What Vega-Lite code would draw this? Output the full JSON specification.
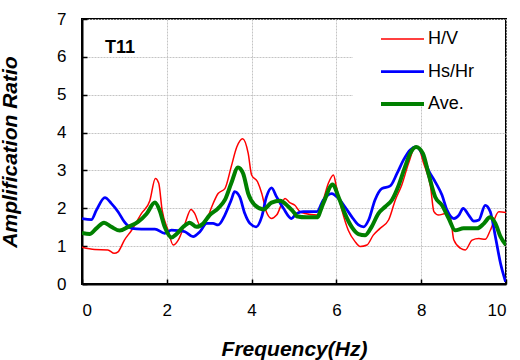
{
  "$schema": "https://vega.github.io/schema/vega-lite/v6.json",
  "width": 424,
  "height": 265,
  "autosize": "none",
  "padding": {"left": 82, "top": 19, "right": 14, "bottom": 76},
  "background": "white",
  "config": {
    "font": "Liberation Sans",
    "view": {"stroke": "black", "strokeWidth": 2},
    "axis": {
      "labelFont": "Liberation Sans",
      "labelFontSize": 17,
      "labelColor": "black",
      "labelOverlap": false,
      "titleFont": "Liberation Sans",
      "titleFontSize": 21,
      "titleFontWeight": "bold",
      "titleFontStyle": "italic",
      "titleColor": "black",
      "domainColor": "black",
      "domainWidth": 2,
      "tickColor": "black",
      "tickWidth": 1.5,
      "gridColor": "#c4c4c4",
      "gridDash": [2, 1],
      "gridWidth": 1
    },
    "axisX": {"tickCount": 12},
    "axisY": {"tickCount": 12}
  },
  "datasets": {
    "curves": [
      {"f":0,"v":0.97,"s":"H/V"},{"f":0.3,"v":0.91,"s":"H/V"},{"f":0.61,"v":0.9,"s":"H/V"},{"f":0.76,"v":0.81,"s":"H/V"},{"f":0.85,"v":0.85,"s":"H/V"},{"f":1.0,"v":1.16,"s":"H/V"},{"f":1.17,"v":1.42,"s":"H/V"},{"f":1.4,"v":1.86,"s":"H/V"},{"f":1.6,"v":2.2,"s":"H/V"},{"f":1.73,"v":2.79,"s":"H/V"},{"f":1.81,"v":2.66,"s":"H/V"},{"f":1.89,"v":1.95,"s":"H/V"},{"f":2.03,"v":1.42,"s":"H/V"},{"f":2.15,"v":1.03,"s":"H/V"},{"f":2.27,"v":1.16,"s":"H/V"},{"f":2.43,"v":1.6,"s":"H/V"},{"f":2.57,"v":1.97,"s":"H/V"},{"f":2.66,"v":1.86,"s":"H/V"},{"f":2.78,"v":1.56,"s":"H/V"},{"f":2.94,"v":1.69,"s":"H/V"},{"f":3.06,"v":2.04,"s":"H/V"},{"f":3.21,"v":2.39,"s":"H/V"},{"f":3.37,"v":2.52,"s":"H/V"},{"f":3.52,"v":3.1,"s":"H/V"},{"f":3.65,"v":3.62,"s":"H/V"},{"f":3.79,"v":3.84,"s":"H/V"},{"f":3.92,"v":3.45,"s":"H/V"},{"f":4.0,"v":2.88,"s":"H/V"},{"f":4.14,"v":2.7,"s":"H/V"},{"f":4.24,"v":2.39,"s":"H/V"},{"f":4.35,"v":1.9,"s":"H/V"},{"f":4.47,"v":1.73,"s":"H/V"},{"f":4.59,"v":1.82,"s":"H/V"},{"f":4.79,"v":2.26,"s":"H/V"},{"f":4.9,"v":2.15,"s":"H/V"},{"f":5.02,"v":2.08,"s":"H/V"},{"f":5.14,"v":1.91,"s":"H/V"},{"f":5.26,"v":1.86,"s":"H/V"},{"f":5.54,"v":1.82,"s":"H/V"},{"f":5.69,"v":2.22,"s":"H/V"},{"f":5.81,"v":2.66,"s":"H/V"},{"f":5.93,"v":2.88,"s":"H/V"},{"f":6.0,"v":2.57,"s":"H/V"},{"f":6.13,"v":1.95,"s":"H/V"},{"f":6.28,"v":1.42,"s":"H/V"},{"f":6.44,"v":1.12,"s":"H/V"},{"f":6.56,"v":0.99,"s":"H/V"},{"f":6.72,"v":1.03,"s":"H/V"},{"f":6.87,"v":1.29,"s":"H/V"},{"f":7.03,"v":1.47,"s":"H/V"},{"f":7.23,"v":1.69,"s":"H/V"},{"f":7.39,"v":2.22,"s":"H/V"},{"f":7.54,"v":2.61,"s":"H/V"},{"f":7.7,"v":3.18,"s":"H/V"},{"f":7.86,"v":3.62,"s":"H/V"},{"f":7.94,"v":3.58,"s":"H/V"},{"f":8.06,"v":3.18,"s":"H/V"},{"f":8.22,"v":2.57,"s":"H/V"},{"f":8.3,"v":1.91,"s":"H/V"},{"f":8.41,"v":1.82,"s":"H/V"},{"f":8.57,"v":1.86,"s":"H/V"},{"f":8.69,"v":1.73,"s":"H/V"},{"f":8.77,"v":1.16,"s":"H/V"},{"f":8.93,"v":0.94,"s":"H/V"},{"f":9.04,"v":0.9,"s":"H/V"},{"f":9.2,"v":1.16,"s":"H/V"},{"f":9.36,"v":1.2,"s":"H/V"},{"f":9.51,"v":1.18,"s":"H/V"},{"f":9.63,"v":1.42,"s":"H/V"},{"f":9.83,"v":1.91,"s":"H/V"},{"f":10.0,"v":1.89,"s":"H/V"},
      {"f":0,"v":1.73,"s":"Hs/Hr"},{"f":0.22,"v":1.7,"s":"Hs/Hr"},{"f":0.34,"v":1.95,"s":"Hs/Hr"},{"f":0.54,"v":2.28,"s":"Hs/Hr"},{"f":0.69,"v":2.13,"s":"Hs/Hr"},{"f":0.85,"v":1.91,"s":"Hs/Hr"},{"f":1.0,"v":1.64,"s":"Hs/Hr"},{"f":1.17,"v":1.47,"s":"Hs/Hr"},{"f":1.4,"v":1.45,"s":"Hs/Hr"},{"f":1.72,"v":1.45,"s":"Hs/Hr"},{"f":1.95,"v":1.34,"s":"Hs/Hr"},{"f":2.11,"v":1.42,"s":"Hs/Hr"},{"f":2.27,"v":1.41,"s":"Hs/Hr"},{"f":2.43,"v":1.38,"s":"Hs/Hr"},{"f":2.62,"v":1.25,"s":"Hs/Hr"},{"f":2.78,"v":1.38,"s":"Hs/Hr"},{"f":2.94,"v":1.6,"s":"Hs/Hr"},{"f":3.09,"v":1.6,"s":"Hs/Hr"},{"f":3.21,"v":1.56,"s":"Hs/Hr"},{"f":3.37,"v":1.82,"s":"Hs/Hr"},{"f":3.52,"v":2.22,"s":"Hs/Hr"},{"f":3.6,"v":2.44,"s":"Hs/Hr"},{"f":3.72,"v":2.3,"s":"Hs/Hr"},{"f":3.84,"v":1.86,"s":"Hs/Hr"},{"f":3.96,"v":1.6,"s":"Hs/Hr"},{"f":4.11,"v":1.51,"s":"Hs/Hr"},{"f":4.24,"v":1.78,"s":"Hs/Hr"},{"f":4.35,"v":2.3,"s":"Hs/Hr"},{"f":4.47,"v":2.54,"s":"Hs/Hr"},{"f":4.59,"v":2.3,"s":"Hs/Hr"},{"f":4.75,"v":2.0,"s":"Hs/Hr"},{"f":4.94,"v":1.73,"s":"Hs/Hr"},{"f":5.06,"v":1.86,"s":"Hs/Hr"},{"f":5.22,"v":1.91,"s":"Hs/Hr"},{"f":5.54,"v":1.91,"s":"Hs/Hr"},{"f":5.69,"v":2.22,"s":"Hs/Hr"},{"f":5.89,"v":2.39,"s":"Hs/Hr"},{"f":6.05,"v":2.26,"s":"Hs/Hr"},{"f":6.2,"v":2.04,"s":"Hs/Hr"},{"f":6.36,"v":1.78,"s":"Hs/Hr"},{"f":6.52,"v":1.56,"s":"Hs/Hr"},{"f":6.64,"v":1.51,"s":"Hs/Hr"},{"f":6.76,"v":1.69,"s":"Hs/Hr"},{"f":6.91,"v":2.22,"s":"Hs/Hr"},{"f":7.07,"v":2.52,"s":"Hs/Hr"},{"f":7.27,"v":2.59,"s":"Hs/Hr"},{"f":7.43,"v":2.92,"s":"Hs/Hr"},{"f":7.58,"v":3.27,"s":"Hs/Hr"},{"f":7.74,"v":3.54,"s":"Hs/Hr"},{"f":7.88,"v":3.62,"s":"Hs/Hr"},{"f":8.02,"v":3.45,"s":"Hs/Hr"},{"f":8.17,"v":3.01,"s":"Hs/Hr"},{"f":8.33,"v":2.7,"s":"Hs/Hr"},{"f":8.49,"v":2.35,"s":"Hs/Hr"},{"f":8.61,"v":1.95,"s":"Hs/Hr"},{"f":8.77,"v":1.73,"s":"Hs/Hr"},{"f":8.89,"v":1.82,"s":"Hs/Hr"},{"f":8.99,"v":2.0,"s":"Hs/Hr"},{"f":9.12,"v":1.82,"s":"Hs/Hr"},{"f":9.24,"v":1.66,"s":"Hs/Hr"},{"f":9.36,"v":1.69,"s":"Hs/Hr"},{"f":9.51,"v":2.08,"s":"Hs/Hr"},{"f":9.63,"v":1.91,"s":"Hs/Hr"},{"f":9.75,"v":1.25,"s":"Hs/Hr"},{"f":9.87,"v":0.55,"s":"Hs/Hr"},{"f":9.99,"v":0.06,"s":"Hs/Hr"},
      {"f":0,"v":1.35,"s":"Ave."},{"f":0.18,"v":1.32,"s":"Ave."},{"f":0.34,"v":1.47,"s":"Ave."},{"f":0.52,"v":1.62,"s":"Ave."},{"f":0.69,"v":1.51,"s":"Ave."},{"f":0.89,"v":1.41,"s":"Ave."},{"f":1.09,"v":1.51,"s":"Ave."},{"f":1.32,"v":1.64,"s":"Ave."},{"f":1.52,"v":1.85,"s":"Ave."},{"f":1.72,"v":2.15,"s":"Ave."},{"f":1.83,"v":1.95,"s":"Ave."},{"f":1.95,"v":1.51,"s":"Ave."},{"f":2.11,"v":1.23,"s":"Ave."},{"f":2.23,"v":1.32,"s":"Ave."},{"f":2.39,"v":1.51,"s":"Ave."},{"f":2.54,"v":1.62,"s":"Ave."},{"f":2.7,"v":1.51,"s":"Ave."},{"f":2.86,"v":1.6,"s":"Ave."},{"f":3.01,"v":1.82,"s":"Ave."},{"f":3.21,"v":2.0,"s":"Ave."},{"f":3.37,"v":2.22,"s":"Ave."},{"f":3.52,"v":2.66,"s":"Ave."},{"f":3.68,"v":3.08,"s":"Ave."},{"f":3.8,"v":2.92,"s":"Ave."},{"f":3.92,"v":2.39,"s":"Ave."},{"f":4.08,"v":2.08,"s":"Ave."},{"f":4.28,"v":1.97,"s":"Ave."},{"f":4.47,"v":2.15,"s":"Ave."},{"f":4.67,"v":2.2,"s":"Ave."},{"f":4.87,"v":2.04,"s":"Ave."},{"f":5.02,"v":1.86,"s":"Ave."},{"f":5.06,"v":1.79,"s":"Ave."},{"f":5.3,"v":1.76,"s":"Ave."},{"f":5.54,"v":1.76,"s":"Ave."},{"f":5.69,"v":2.13,"s":"Ave."},{"f":5.91,"v":2.63,"s":"Ave."},{"f":6.05,"v":2.3,"s":"Ave."},{"f":6.2,"v":1.86,"s":"Ave."},{"f":6.36,"v":1.51,"s":"Ave."},{"f":6.52,"v":1.32,"s":"Ave."},{"f":6.68,"v":1.29,"s":"Ave."},{"f":6.83,"v":1.51,"s":"Ave."},{"f":6.99,"v":1.86,"s":"Ave."},{"f":7.15,"v":2.04,"s":"Ave."},{"f":7.31,"v":2.22,"s":"Ave."},{"f":7.47,"v":2.61,"s":"Ave."},{"f":7.62,"v":3.1,"s":"Ave."},{"f":7.74,"v":3.45,"s":"Ave."},{"f":7.88,"v":3.62,"s":"Ave."},{"f":8.04,"v":3.45,"s":"Ave."},{"f":8.17,"v":2.92,"s":"Ave."},{"f":8.33,"v":2.3,"s":"Ave."},{"f":8.49,"v":2.08,"s":"Ave."},{"f":8.65,"v":1.73,"s":"Ave."},{"f":8.8,"v":1.42,"s":"Ave."},{"f":9.0,"v":1.47,"s":"Ave."},{"f":9.32,"v":1.47,"s":"Ave."},{"f":9.48,"v":1.6,"s":"Ave."},{"f":9.62,"v":1.76,"s":"Ave."},{"f":9.75,"v":1.6,"s":"Ave."},{"f":9.87,"v":1.25,"s":"Ave."},{"f":10.0,"v":1.03,"s":"Ave."}
    ]
  },
  "layer": [
    {
      "data": {"values": [{}]},
      "mark": {"type": "rect", "fill": "white", "stroke": null},
      "encoding": {
        "x": {
          "datum": 6.39, "type": "quantitative",
          "scale": {"domain": [0, 10], "nice": false},
          "axis": {"values": [0, 2, 4, 6, 8, 10], "format": "d", "tickCount": 12, "labelOverlap": false, "title": "Frequency(Hz)", "tickSize": -5, "labelPadding": 23, "titlePadding": 20, "grid": true}
        },
        "x2": {"datum": 9.97},
        "y": {
          "datum": 4.75, "type": "quantitative",
          "scale": {"domain": [0, 7], "nice": false},
          "axis": {"values": [0, 1, 2, 3, 4, 5, 6, 7], "format": "d", "tickCount": 12, "labelOverlap": false, "title": "Amplification Ratio", "tickSize": -5, "labelPadding": 21, "titlePadding": 36, "grid": true}
        },
        "y2": {"datum": 6.97}
      }
    },
    {
      "data": {"name": "curves"},
      "mark": {"type": "line", "clip": true, "interpolate": "monotone"},
      "encoding": {
        "x": {
          "field": "f", "type": "quantitative",
          "scale": {"domain": [0, 10], "nice": false},
          "axis": {"values": [0, 2, 4, 6, 8, 10], "format": "d", "tickCount": 12, "labelOverlap": false, "title": "Frequency(Hz)", "tickSize": -5, "labelPadding": 23, "titlePadding": 20, "grid": true}
        },
        "y": {
          "field": "v", "type": "quantitative",
          "scale": {"domain": [0, 7], "nice": false},
          "axis": {"values": [0, 1, 2, 3, 4, 5, 6, 7], "format": "d", "tickCount": 12, "labelOverlap": false, "title": "Amplification Ratio", "tickSize": -5, "labelPadding": 21, "titlePadding": 36, "grid": true}
        },
        "color": {
          "field": "s", "type": "nominal",
          "scale": {"domain": ["H/V", "Hs/Hr", "Ave."], "range": ["#ff0000", "#0000ff", "#008000"]},
          "legend": {
            "title": null, "orient": "none", "legendX": 297, "legendY": -2.5,
            "padding": 0, "symbolType": "stroke", "symbolSize": 1849,
            "labelFont": "Liberation Sans", "labelFontSize": 18, "labelColor": "black",
            "labelOffset": 2, "rowPadding": -18
          }
        },
        "strokeWidth": {
          "field": "s", "type": "nominal",
          "scale": {"domain": ["H/V", "Hs/Hr", "Ave."], "range": [1.5, 4, 6]},
          "legend": {
            "title": null, "orient": "none", "legendX": 297, "legendY": -2.5,
            "padding": 0, "symbolType": "stroke", "symbolSize": 1849,
            "labelFont": "Liberation Sans", "labelFontSize": 18, "labelColor": "black",
            "labelOffset": 2, "rowPadding": -18
          }
        }
      }
    },
    {
      "data": {"values": [{}]},
      "mark": {"type": "text", "text": "T11", "align": "left", "baseline": "alphabetic", "font": "Liberation Sans", "fontSize": 18, "fontWeight": "bold", "color": "black"},
      "encoding": {
        "x": {
          "datum": 0.54, "type": "quantitative",
          "axis": {"values": [0, 2, 4, 6, 8, 10], "format": "d", "tickCount": 12, "labelOverlap": false, "title": "Frequency(Hz)", "tickSize": -5, "labelPadding": 23, "titlePadding": 20, "grid": true}
        },
        "y": {
          "datum": 6.1, "type": "quantitative",
          "axis": {"values": [0, 1, 2, 3, 4, 5, 6, 7], "format": "d", "tickCount": 12, "labelOverlap": false, "title": "Amplification Ratio", "tickSize": -5, "labelPadding": 21, "titlePadding": 36, "grid": true}
        }
      }
    }
  ]
}
